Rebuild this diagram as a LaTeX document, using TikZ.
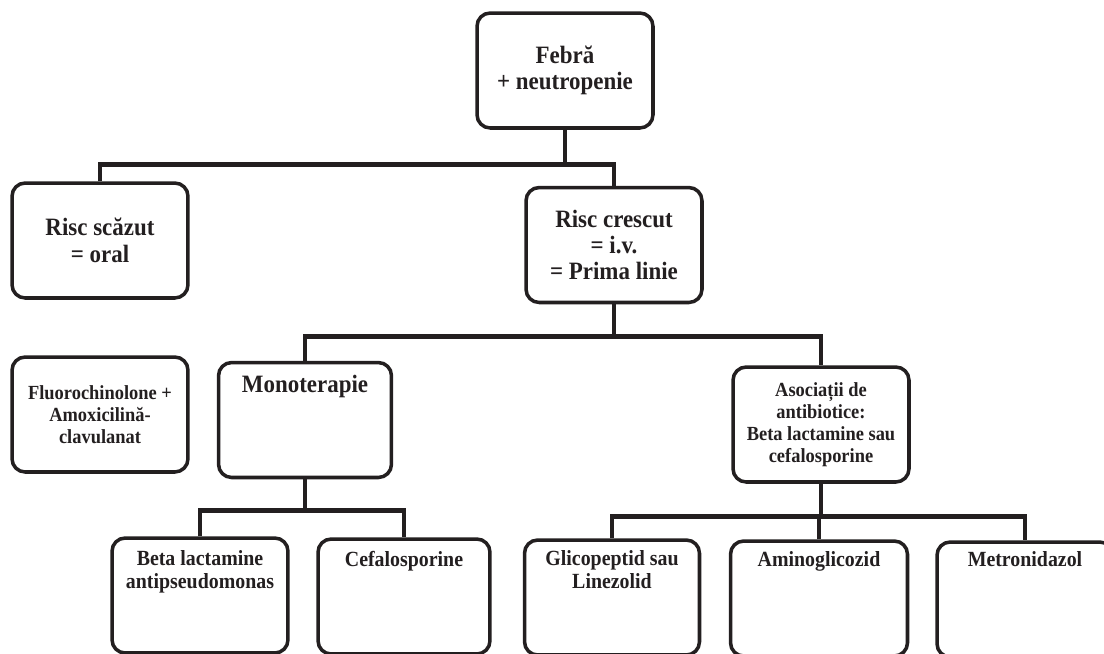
\documentclass[tikz,border=0pt]{standalone}
\usepackage{fontspec}
\setmainfont{Liberation Serif}[FakeStretch=0.92]
\usetikzlibrary{positioning}
\definecolor{ink}{HTML}{231F20}
\tikzset{
  box/.style={draw=ink,line width=2pt,rounded corners=7.5pt,
    minimum width=3.52cm,minimum height=2.3cm,inner sep=0,align=center},
  boxtext/.style={inner sep=0,align=center,text=ink},
  wire/.style={draw=ink,line width=2.8pt},
  bigfont/.style={font=\bfseries\fontsize{14.2}{15}\selectfont},
  midfont/.style={font=\bfseries\fontsize{12.3}{13}\selectfont},
  smallfont/.style={font=\bfseries\fontsize{11.4}{12.5}\selectfont}
}
\begin{document}
\begin{tikzpicture}[x=0.02cm,y=0.02cm]
  \clip (0,0) rectangle (1104,-653);
  \fill[white] (0,0) rectangle (1104,-653);
  % boxes
  \node[box,bigfont,text=ink] (febra) at (565,-70.5) {Febră\\+ neutropenie};
  \node[box,bigfont,text=ink] (scazut) at (100,-240.5) {Risc scăzut\\= oral};
  \node[box,bigfont,text=ink] (crescut) at (614,-245) {Risc crescut\\= i.v.\\= Prima linie};
  \node[box,smallfont,text=ink] (fluoro) at (100,-414.5) {Fluorochinolone +\\Amoxicilină-\\clavulanat};
  \node[box,minimum width=3.46cm] (mono) at (305,-420) {};
  \node[box,smallfont,text=ink] (asoc) at (821,-424.5) {Asociații de\\antibiotice:\\Beta lactamine sau\\cefalosporine};
  \node[box] (beta) at (200,-595.5) {};
  \node[box,minimum width=3.44cm] (cefa) at (404,-596.5) {};
  \node[box,minimum width=3.5cm] (glico) at (612,-597.5) {};
  \node[box,minimum width=3.54cm] (amino) at (819,-598.5) {};
  \node[box] (metro) at (1025,-599.5) {};
  % texts at the top of the boxes
  \node[boxtext,bigfont,below=8pt of mono.north] (mono-t) {Monoterapie};
  \node[boxtext,midfont,below=8pt of beta.north] (beta-t) {Beta lactamine\\antipseudomonas};
  \node[boxtext,midfont,below=8pt of cefa.north] (cefa-t) {Cefalosporine};
  \node[boxtext,midfont,below=7pt of glico.north] (glico-t) {Glicopeptid sau\\Linezolid};
  \node[boxtext,midfont,below=7pt of amino.north] (amino-t) {Aminoglicozid};
  \node[boxtext,midfont,below=6pt of metro.north] (metro-t) {Metronidazol};
  % connectors
  \draw[wire] (febra.south) -- ++(0,-35) coordinate (b1);
  \draw[wire] (scazut.north) |- (b1) -| (crescut.north);
  \draw[wire] (crescut.south) -- ++(0,-32) coordinate (b2);
  \draw[wire] (mono.north) |- (b2) -| (asoc.north);
  \draw[wire] (mono.south) -- ++(0,-31) coordinate (b3);
  \draw[wire] (beta.north) |- (b3) -| (cefa.north);
  \draw[wire] (asoc.south) -- ++(0,-33) coordinate (b4);
  \draw[wire] (glico.north) |- (b4) -| (metro.north);
  \draw[wire] (amino.north) -- (amino.north |- b4);
\end{tikzpicture}
\end{document}
